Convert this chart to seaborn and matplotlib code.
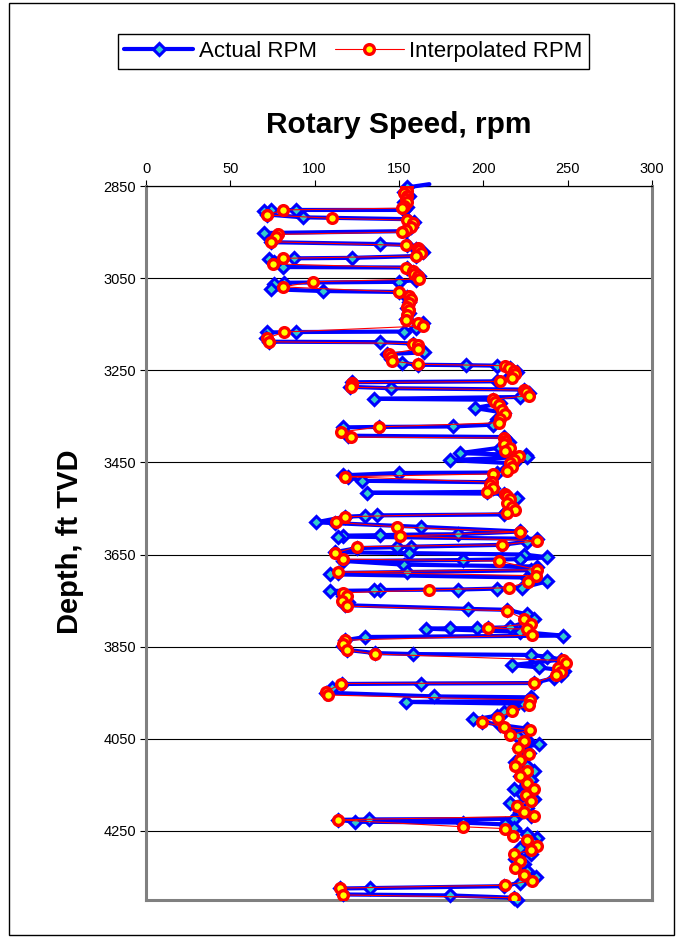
import numpy as np
import pandas as pd
import matplotlib
matplotlib.use("Agg")
import matplotlib.pyplot as plt
import seaborn as sns
from matplotlib.patches import Rectangle

# ---- data (depth ft TVD, rotary speed rpm) ----
actual_depth = [
    2846, 2853, 2862, 2872, 2884, 2896, 2902,
    2902, 2903, 2904, 2912, 2918, 2922,
    2928, 2938, 2948,
    2952, 2958, 2972, 2976, 2978,
    2986, 2994, 3002,
    3006, 3007, 3008, 3016, 3026, 3027,
    3036, 3046, 3054,
    3058, 3060, 3062, 3074, 3078, 3080,
    3090, 3102, 3114, 3126, 3138, 3148, 3158, 3166,
    3167, 3168, 3180, 3188, 3189, 3192,
    3200, 3211, 3215, 3226, 3234, 3238,
    3239, 3240, 3246, 3254, 3262, 3274,
    3276, 3286, 3289, 3292,
    3300, 3308,
    3312, 3314,
    3322, 3332, 3342, 3356, 3368,
    3372, 3373, 3374, 3392, 3395,
    3405, 3418, 3430, 3434, 3438, 3445, 3452, 3462, 3472,
    3473, 3478, 3482, 3490, 3493,
    3505, 3514,
    3516, 3518,
    3528, 3542, 3556, 3563,
    3565, 3566, 3568, 3580, 3582, 3590, 3600,
    3606, 3607, 3608, 3609, 3611,
    3616, 3622, 3629,
    3633, 3634, 3636, 3645,
    3647, 3650, 3656, 3660,
    3662, 3664,
    3672, 3676, 3684,
    3688, 3690, 3693,
    3700, 3708, 3722, 3724, 3726, 3727, 3728, 3729,
    3740, 3752, 3760,
    3768, 3770, 3780, 3790,
    3808, 3809, 3810, 3810, 3811,
    3818, 3826,
    3829, 3836, 3848, 3857,
    3864, 3866, 3868, 3872, 3878, 3890, 3895, 3902, 3912, 3918,
    3929, 3930, 3931, 3940, 3950,
    3958, 3960, 3968, 3970, 3974,
    3985, 3992, 4000, 4008, 4013, 4020, 4028, 4036, 4044, 4052, 4062, 4070,
    4080, 4090, 4100, 4110, 4120, 4130, 4140, 4150, 4160, 4170, 4180, 4190,
    4200, 4210, 4218,
    4224, 4225, 4226, 4230, 4232, 4236, 4244,
    4256, 4266, 4276, 4288, 4300, 4310, 4322, 4336, 4350, 4362, 4370,
    4374, 4375, 4388, 4390, 4395, 4400,
]
actual_rpm = [
    168, 155, 153, 156, 153, 155, 153,
    89, 74, 70, 72, 93, 155,
    159, 157, 154,
    70, 77, 74, 139, 155,
    160, 164, 160,
    122, 88, 73, 76, 81, 155,
    158, 162, 160,
    150, 82, 76, 74, 105, 150,
    155, 156, 155, 156, 154, 164, 160, 153,
    89, 72, 71, 73, 139, 158,
    160, 165, 143, 145, 152, 161,
    190, 208, 216, 220, 216, 208,
    122, 121, 145, 224,
    227, 222,
    135, 206,
    210, 195, 212, 208, 206,
    182, 138, 117, 120, 212,
    215, 210, 186, 225, 226, 180, 218, 214, 208,
    150, 117, 120, 128, 204,
    206, 202,
    131, 212,
    220, 216, 214, 212,
    137, 130, 118, 101, 112, 163, 222,
    185, 150, 139, 117, 114,
    232, 226, 211,
    157, 149, 125, 112,
    156, 224, 238, 222,
    188, 117,
    153, 232, 228,
    155, 114, 109,
    226, 238, 223, 208, 185, 139, 135, 109,
    117, 120, 118,
    191, 214, 226, 230,
    216, 203, 196, 180, 166,
    222, 247,
    130, 118, 117, 119,
    136, 158, 228, 238, 246, 217, 233, 248, 246, 242,
    230, 163, 116, 110, 107,
    171, 228, 226, 154, 224,
    217, 212, 208, 194, 199, 210, 226, 216, 220, 226, 233, 221,
    227, 224, 219, 226, 230, 222, 228, 225, 218, 223, 230, 216,
    226, 222, 228,
    218, 132, 114, 124, 188, 213, 218,
    226, 232, 230, 222, 228, 219, 224, 226, 231, 222, 212,
    133, 115, 117, 180, 218, 220,
]

interp_depth = [
    2850, 2855, 2860, 2866, 2872, 2878, 2885, 2893, 2898,
    2902, 2913, 2920, 2924,
    2930, 2938, 2946, 2950,
    2955, 2960, 2971, 2979,
    2985, 2990, 2996, 3002,
    3007, 3019, 3027,
    3034, 3040, 3046, 3052,
    3058, 3069, 3080,
    3088, 3096, 3104, 3112, 3120, 3130, 3140, 3148, 3154,
    3167, 3180, 3188, 3192,
    3196, 3204, 3214, 3222, 3230, 3237,
    3240, 3246, 3252, 3258, 3266, 3274,
    3277, 3282, 3287, 3293,
    3298, 3305,
    3313, 3318, 3326, 3336, 3346, 3356, 3364,
    3373, 3384, 3395, 3397,
    3403, 3410, 3418, 3426, 3436, 3444, 3452, 3460, 3468,
    3475, 3481, 3493,
    3499, 3506, 3514,
    3518, 3522, 3530, 3538, 3546, 3554, 3560,
    3568, 3580, 3590, 3601, 3610, 3620, 3629, 3633, 3647, 3660, 3664,
    3683, 3688, 3696, 3709, 3722, 3727, 3733, 3740, 3750, 3762, 3772,
    3790, 3800, 3810, 3812, 3825, 3836, 3845, 3857, 3866,
    3880, 3886, 3896, 3905, 3912, 3929, 3930, 3948, 3955, 3966, 3977,
    3990, 4005, 4013, 4024, 4031, 4042, 4055, 4070, 4083, 4096, 4109,
    4120, 4130, 4145, 4160, 4172, 4185, 4195, 4208, 4218,
    4226, 4241, 4245, 4261,
    4270, 4282, 4292, 4300, 4315, 4330, 4345, 4358, 4368,
    4374, 4389, 4395,
]
interp_rpm = [
    155, 154, 155, 153, 155, 154, 155, 153, 152,
    81, 72, 110, 155,
    158, 157, 154, 152,
    78, 77, 74, 154,
    161, 162, 163, 160,
    81, 75, 154,
    158, 159, 161, 162,
    99, 81, 150,
    156, 157, 156, 155, 156, 155, 154, 161, 164,
    82, 72, 73, 158,
    161, 161, 144, 145, 146, 161,
    213, 215, 218, 219, 217, 210,
    122, 122, 121.5, 224,
    225, 227,
    206, 207, 209, 211, 213, 210, 209,
    138, 115.6, 121.5, 212,
    213, 212, 216, 213, 221, 218, 216, 217, 214,
    206, 118, 205,
    204, 206, 202,
    213, 214, 216, 214, 217, 219, 214,
    118, 112.6, 149, 222, 150.5, 232, 211, 125, 112, 117, 209,
    232, 114, 231.5, 226.5, 215, 168, 117, 119, 116, 119, 214,
    224, 228, 202.7, 226, 229, 118, 117, 119, 135.7,
    247, 249, 244, 246, 243, 230, 115.6, 107, 108, 227.6, 227,
    217, 208.7, 199, 212, 227.6, 215.8, 224, 220.5, 227, 222, 219,
    226, 222, 226, 230, 225, 228, 220, 224, 230,
    114, 188, 213, 217.6,
    226, 232, 228, 218, 222, 219, 224, 229, 213,
    115, 117, 218,
]

x_ticks = [0, 50, 100, 150, 200, 250, 300]
y_ticks = [2850, 3050, 3250, 3450, 3650, 3850, 4050, 4250]

actual = pd.DataFrame({"Depth": actual_depth, "RPM": actual_rpm})
interp = pd.DataFrame({"Depth": interp_depth, "RPM": interp_rpm})

sns.set_theme(style="white")
plt.rcParams["font.family"] = ["Liberation Sans", "DejaVu Sans"]
plt.rcParams["text.color"] = "black"
plt.rcParams["xtick.color"] = "black"
plt.rcParams["ytick.color"] = "black"

fig = plt.figure(figsize=(6.83, 9.38), dpi=100)
ax = fig.add_axes([0.2138, 0.0405, 0.7408, 0.7612])

for y in y_ticks:
    ax.axhline(y, color="black", lw=0.8, zorder=1)

# first reading sits just above the top axis: draw its line, skip its marker
sns.lineplot(data=actual, x="RPM", y="Depth", sort=False, estimator=None,
             color="#0000FF", lw=3.0, marker="D", markersize=6.3,
             markerfacecolor="#33CCCC", markeredgecolor="#0000FF",
             markeredgewidth=2.2, markevery=slice(1, None), clip_on=False,
             label="Actual RPM", ax=ax, zorder=3)
sns.lineplot(data=interp, x="RPM", y="Depth", sort=False, estimator=None,
             color="#FF0000", lw=0.8, marker="o", markersize=7.0,
             markerfacecolor="#FFFF00", markeredgecolor="#FF0000",
             markeredgewidth=2.4, label="Interpolated RPM", ax=ax, zorder=4)

ax.set_xlim(0, 300)
ax.set_ylim(4400, 2850)
ax.set_xticks(x_ticks)
ax.set_yticks(y_ticks)
ax.xaxis.tick_top()
ax.tick_params(axis="both", labelsize=10.5, length=4, width=0.8,
               colors="black", direction="out", pad=3)
ax.tick_params(axis="x", top=True, bottom=False)
ax.tick_params(axis="y", left=True)
ax.set_xlabel("")
ax.set_ylabel("")

ax.spines["top"].set_color("black")
ax.spines["top"].set_linewidth(0.9)
for s in ["left", "bottom", "right"]:
    ax.spines[s].set_color("#808080")
    ax.spines[s].set_linewidth(2.2)

ax.get_legend().remove()
handles, labels = ax.get_legend_handles_labels()
leg = fig.legend(handles, labels, loc="center", bbox_to_anchor=(0.5176, 0.945),
                 ncol=2, fontsize=16, frameon=True, fancybox=False,
                 edgecolor="black", framealpha=1, handlelength=3.1,
                 handletextpad=0.25, columnspacing=0.8, borderpad=0.3)
leg.get_frame().set_linewidth(1.0)
for t in leg.get_texts():
    t.set_color("black")

fig.text(0.584, 0.8667, "Rotary Speed, rpm", ha="center", va="center",
         fontsize=21.5, fontweight="bold", color="black")
fig.text(0.1025, 0.422, "Depth, ft TVD", ha="center", va="center",
         rotation=90, fontsize=21, fontweight="bold", color="black")

fig.patches.append(Rectangle((0.013, 0.003), 0.974, 0.994, transform=fig.transFigure,
                             fill=False, edgecolor="black", lw=1.0))

fig.savefig("out.png", dpi=100)
